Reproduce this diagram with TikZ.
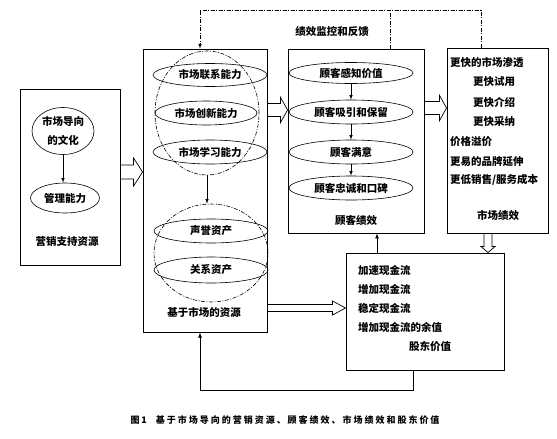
\documentclass[tikz,border=0pt]{standalone}
\usepackage{fontspec}
\setmainfont{Noto Sans CJK SC}
\usetikzlibrary{shapes.geometric,calc}
\begin{document}
\begin{tikzpicture}[x=1pt,y=-1pt,>=latex,
  every node/.style={font=\fontsize{10.5}{12.5}\selectfont\bfseries,inner sep=0pt},
  box/.style={draw,line width=0.9pt},
  oval/.style={draw,ellipse,line width=0.6pt},
  ring/.style={draw,ellipse,line width=0.6pt,dash pattern=on 4pt off 1.5pt on 1pt off 1.5pt},
  fb/.style={line width=0.6pt,dash pattern=on 4pt off 1.5pt on 1pt off 1.5pt},
  harrow/.style n args={3}{draw,line width=0.7pt,to path={let \p1=(\tikztostart),\p2=(\tikztotarget) in
    (\x1,\y1+#1) -- (\x2-#3,\y1+#1) -- (\x2-#3,\y1+#2) -- (\x2,\y1) -- (\x2-#3,\y1-#2) -- (\x2-#3,\y1-#1) -- (\x1,\y1-#1) -- cycle}},
  varrow/.style n args={3}{draw,line width=0.7pt,to path={let \p1=(\tikztostart),\p2=(\tikztotarget) in
    (\x1+#1,\y1) -- (\x1+#1,\y2+#3) -- (\x1+#2,\y2+#3) -- (\x1,\y2) -- (\x1-#2,\y2+#3) -- (\x1-#1,\y2+#3) -- (\x1-#1,\y1) -- cycle}}]
\useasboundingbox (0,0) rectangle (557,439);
% marketing resources -> customer, market and shareholder value
\node[box,minimum width=100pt,minimum height=176pt] (sup) at (70,177) {};
\node[oval,minimum width=62pt,minimum height=47pt,align=center,font=\fontsize{10.5}{19}\selectfont\bfseries] (cult) at (63,131) {市场导向\\的文化};
\node[oval,minimum width=69pt,minimum height=30pt] (mgmt) at (65,198) {管理能力};
\node (supl) at (67,242) {营销支持资源};
\draw[->,line width=0.6pt] (cult.south) -- (cult.south |- mgmt.north);

\node[box,minimum width=124pt,minimum height=283pt] (mid) at (205,190.5) {};
\node[oval,minimum width=114pt,minimum height=23pt] (link) at (210,75) {市场联系能力};
\node[oval,minimum width=102pt,minimum height=24pt] (innov) at (206,113) {市场创新能力};
\node[oval,minimum width=114pt,minimum height=24pt] (learn) at (210,152) {市场学习能力};
\node[ring,minimum width=104pt,minimum height=124pt] (caps) at (207,113) {};
\node[oval,minimum width=114pt,minimum height=24pt] (repu) at (211,231) {声誉资产};
\node[oval,minimum width=114pt,minimum height=26pt] (rela) at (211,270) {关系资产};
\node[ring,minimum width=114pt,minimum height=98pt] (assets) at (211,253) {};
\node (midl) at (204,312) {基于市场的资源};
\draw[->,line width=0.6pt] (caps.south) -- (caps.south |- assets.north);

\node[box,minimum width=136pt,minimum height=184pt] (cust) at (356,141) {};
\node[oval,minimum width=124pt,minimum height=21pt] (cv) at (351,73) {顾客感知价值};
\node[oval,minimum width=124pt,minimum height=24pt] (ca) at (351,112) {顾客吸引和保留};
\node[oval,minimum width=124pt,minimum height=24pt] (cs) at (351,152) {顾客满意};
\node[oval,minimum width=124pt,minimum height=24pt] (cl) at (351,188) {顾客忠诚和口碑};
\node (custl) at (356,220) {顾客绩效};
\draw[->,line width=0.6pt] (cv) -- (ca);
\draw[->,line width=0.6pt] (ca) -- (cs);
\draw[->,line width=0.6pt] (cs) -- (cl);

\node[box,minimum width=101pt,minimum height=185pt] (mkt) at (497.5,140.5) {};
\node[anchor=west] (m1) at (450,63) {更快的市场渗透};
\node (m2) at (494,82) {更快试用};
\node (m3) at (494,102) {更快介绍};
\node (m4) at (494,122) {更快采纳};
\node[anchor=west] (m5) at (450,142) {价格溢价};
\node[anchor=west] (m6) at (450,162) {更易的品牌延伸};
\node[anchor=west] (m7) at (450,180) {更低销售/服务成本};
\node (mktl) at (498,215) {市场绩效};

\node[box,minimum width=158pt,minimum height=117pt] (cash) at (425,311.5) {};
\node[anchor=west] (c1) at (358,270) {加速现金流};
\node[anchor=west] (c2) at (358,289) {增加现金流};
\node[anchor=west] (c3) at (358,308) {稳定现金流};
\node[anchor=west] (c4) at (358,327) {增加现金流的余值};
\node (c5) at (430,346) {股东价值};

\draw[harrow={7pt}{14pt}{9pt}] (sup.east |- 0,172) to (mid.west |- 0,172);
\draw[harrow={6.5pt}{12.5pt}{7pt}] (mid.east |- 0,110) to (cust.west |- 0,110);
\draw[harrow={6.5pt}{12.5pt}{7pt}] (cust.east |- 0,108) to (mkt.west |- 0,108);
\draw[harrow={3.5pt}{7pt}{13pt}] (mid.east |- 0,308) to (cash.west |- 0,308);
\draw[varrow={4pt}{7pt}{6pt}] (mkt.south -| 488,0) to (cash.north -| 488,0);
\draw[->,line width=0.7pt] (cash.north -| 377,0) -- (cust.south -| 377,0);

\coordinate (fbR) at (481,10);
\coordinate (fbM) at (390,10);
\coordinate (fbL) at (200,10);
\draw[fb,->] (fbR |- mkt.north) -- (fbR) -- (fbL) -- (fbL |- mid.north);
\draw[fb] (fbM |- cust.north) -- (fbM);
\node (fbl) at (332,32) {绩效监控和反馈};

\coordinate (lpR) at (413,390);
\coordinate (lpL) at (200,390);
\draw[->,line width=0.8pt] (lpR |- cash.south) -- (lpR) -- (lpL) -- (lpL |- mid.south);

\node[font=\fontsize{9}{10}\selectfont\bfseries\addfontfeatures{LetterSpace=22}] (cap) at (285,420) {图1\quad 基于市场导向的营销资源、顾客绩效、市场绩效和股东价值};
\end{tikzpicture}
\end{document}
